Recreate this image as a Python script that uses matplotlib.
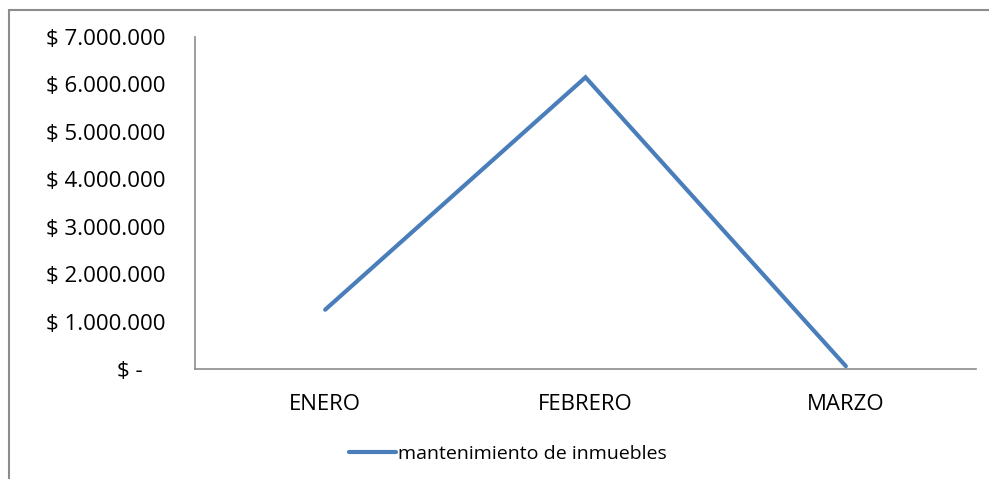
import matplotlib.pyplot as plt
from matplotlib.patches import Rectangle

meses = ["ENERO", "FEBRERO", "MARZO"]
valores = [1250000, 6150000, 60000]
serie = "mantenimiento de inmuebles"
y_ticks = [0, 1000000, 2000000, 3000000, 4000000, 5000000, 6000000, 7000000]


def etiqueta(v):
    if v == 0:
        return "$ -    "
    return "$ " + f"{v:,.0f}".replace(",", ".")


plt.rcParams['font.family'] = ['Open Sans', 'DejaVu Sans']

fig = plt.figure(figsize=(9.89, 4.79), dpi=100)
ax = fig.add_axes([195 / 989, 1 - 369 / 479, 781 / 989, 332 / 479])

x = list(range(len(meses)))
ax.plot(x, valores, color='#4a7ebb', linewidth=3, solid_capstyle='round',
        solid_joinstyle='miter', label=serie)

ax.set_xlim(-0.5, len(meses) - 0.5)
ax.set_ylim(0, 7000000)
ax.set_xticks(x)
ax.set_xticklabels(meses, fontsize=16)
ax.set_yticks(y_ticks)
ax.set_yticklabels([etiqueta(v) for v in y_ticks], fontsize=16)
ax.tick_params(length=0)
ax.tick_params(axis='y', pad=21)
ax.tick_params(axis='x', pad=18)

for s in ['top', 'right']:
    ax.spines[s].set_visible(False)
for s in ['left', 'bottom']:
    ax.spines[s].set_color('#8c8c8c')
    ax.spines[s].set_linewidth(1.2)

leg = fig.legend(loc='center', bbox_to_anchor=(508 / 989, 1 - 454 / 479),
                 frameon=False, fontsize=14, handlelength=2.4, handletextpad=0.15)

# marco exterior
fig.patches.append(Rectangle((9 / 989, -0.1), 1.1, 1 - 10 / 479 + 0.1,
                             transform=fig.transFigure, fill=False,
                             edgecolor='#8c8c8c', linewidth=1.5))

fig.savefig("out.png", dpi=100)
